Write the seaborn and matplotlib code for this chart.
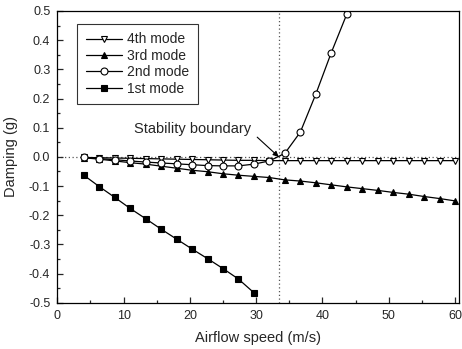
import numpy as np
import pandas as pd
import seaborn as sns
import matplotlib
matplotlib.use("Agg")
import matplotlib.pyplot as plt

# airflow speeds (m/s)
speed = [4.0, 6.33, 8.67, 11.0, 13.33, 15.67, 18.0, 20.33, 22.67, 25.0, 27.33,
         29.67, 32.0, 34.33, 36.67, 39.0, 41.33, 43.67, 46.0, 48.33, 50.67,
         53.0, 55.33, 57.67, 60.0]

mode4 = [-0.002, -0.003, -0.004, -0.005, -0.006, -0.007, -0.008, -0.009, -0.010,
         -0.011, -0.012, -0.012, -0.013, -0.013, -0.013, -0.013, -0.013, -0.013,
         -0.013, -0.013, -0.013, -0.013, -0.013, -0.013, -0.013]
mode3 = [-0.003, -0.008, -0.014, -0.020, -0.025, -0.032, -0.039, -0.046, -0.051,
         -0.058, -0.063, -0.067, -0.071, -0.079, -0.083, -0.089, -0.096, -0.103,
         -0.109, -0.115, -0.122, -0.128, -0.136, -0.143, -0.151]
mode2 = [-0.002, -0.006, -0.010, -0.014, -0.018, -0.021, -0.024, -0.027, -0.030,
         -0.031, -0.031, -0.025, -0.014, 0.012, 0.085, 0.215, 0.357, 0.489]
mode1 = [-0.063, -0.102, -0.139, -0.177, -0.212, -0.248, -0.282, -0.316, -0.349,
         -0.383, -0.419, -0.466]

labels = ["4th mode", "3rd mode", "2nd mode", "1st mode"]
boundary_speed = 33.4
x_ticks = [0, 10, 20, 30, 40, 50, 60]
y_ticks = [-0.5, -0.4, -0.3, -0.2, -0.1, 0.0, 0.1, 0.2, 0.3, 0.4, 0.5]

sns.set_style("ticks")
plt.rcParams['font.family'] = ['Liberation Sans', 'DejaVu Sans']
plt.rcParams['axes.unicode_minus'] = False

fig = plt.figure(figsize=(4.62, 3.49), dpi=100)
ax = fig.add_axes([0.124, 0.1327, 0.8695, 0.8358])

series = [mode4, mode3, mode2, mode1]
styles = [("v", "white"), ("^", "black"), ("o", "white"), ("s", "black")]
for vals, lab, (mk, fc) in zip(series, labels, styles):
    df = pd.DataFrame({"speed": speed[:len(vals)], "damping": vals})
    sns.lineplot(data=df, x="speed", y="damping", ax=ax, color="black",
                 linewidth=0.9, marker=mk, markersize=5,
                 markerfacecolor=fc, markeredgecolor="black",
                 markeredgewidth=0.8, label=lab)

ax.axhline(0.0, color="#555555", linestyle=(0, (1, 2)), linewidth=0.9, zorder=0)
ax.axvline(boundary_speed, color="#555555", linestyle=(0, (1, 2)), linewidth=0.9, zorder=0)

ax.annotate("Stability boundary", xy=(boundary_speed, 0.0), xytext=(29.2, 0.097),
            ha="right", va="center", fontsize=10.5,
            arrowprops=dict(arrowstyle="-|>", color="black", lw=0.8,
                            relpos=(1.0, 0.3), shrinkA=3, shrinkB=0,
                            mutation_scale=8))

ax.set_xlim(0, 60.6)
ax.set_ylim(-0.5, 0.5)
ax.set_xticks(x_ticks)
ax.set_yticks(y_ticks)
ax.set_yticklabels([f"{v:.1f}" for v in y_ticks])
ax.set_xticks([5, 15, 25, 35, 45, 55], minor=True)
ax.set_yticks([-0.45, -0.35, -0.25, -0.15, -0.05, 0.05, 0.15, 0.25, 0.35, 0.45], minor=True)
ax.tick_params(which="both", direction="in", top=False, right=False, labelsize=9, pad=5)
ax.tick_params(which="major", length=4, width=0.9)
ax.tick_params(which="minor", length=2.5, width=0.9)
for s in ax.spines.values():
    s.set_visible(True)
    s.set_linewidth(0.9)
    s.set_color("black")

ax.set_xlabel("Airflow speed (m/s)", fontsize=10.5, labelpad=7)
ax.set_ylabel("Damping (g)", fontsize=10.5, labelpad=8)

leg = ax.legend(loc="upper left", bbox_to_anchor=(0.05, 0.955), frameon=True,
                fancybox=False, edgecolor="black", fontsize=10, handlelength=2.6,
                labelspacing=0.17, borderpad=0.6, handletextpad=0.4, borderaxespad=0)
leg.get_frame().set_linewidth(0.8)

fig.savefig("out.png", dpi=100)
